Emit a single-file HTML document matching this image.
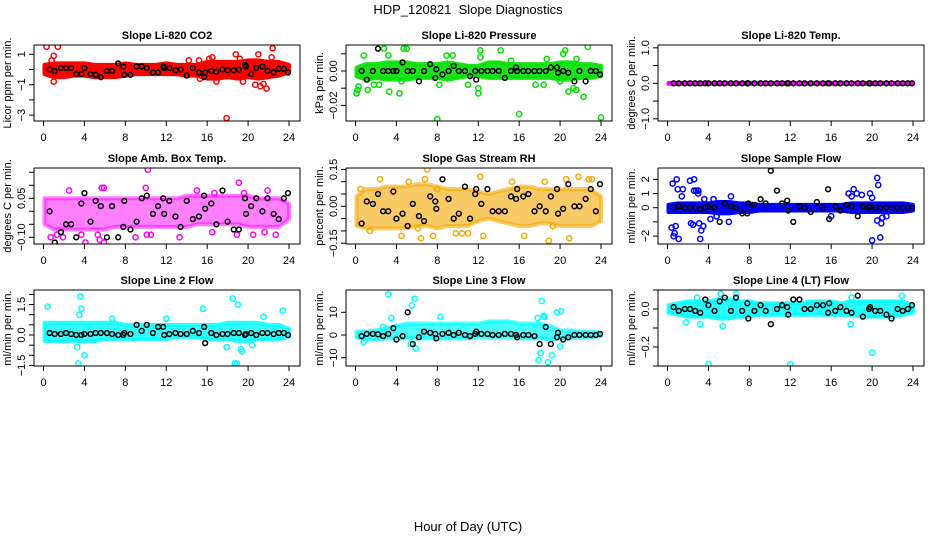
<!DOCTYPE html>
<html><head><meta charset="utf-8"><style>
html,body{margin:0;padding:0;background:#fff;}
svg{display:block;font-family:"Liberation Sans",Arial,sans-serif;}
</style></head><body>
<svg id="chart" width="936" height="540" viewBox="0 0 936 540" xmlns="http://www.w3.org/2000/svg">
<text x="468" y="14" font-size="13" text-anchor="middle">HDP_120821&#160; Slope Diagnostics</text>
<text x="468" y="531" font-size="13" text-anchor="middle">Hour of Day (UTC)</text>
</svg>
<script>
// shared hour positions
const bandHours = [0,1,2,3,4,5,6,7,8,9,10,11,12,13,14,15,16,17,18,19,20,21,22,23,24];
const meanHours = [0.6,1.1,1.7,2.2,2.7,3.2,3.7,4.0,4.6,5.1,5.6,6.2,6.7,7.3,7.8,7.9,8.5,9.1,9.6,10.1,10.7,11.2,11.7,11.8,12.3,12.9,13.4,14.0,14.6,15.2,15.7,15.8,16.4,16.9,17.5,18.0,18.6,19.1,19.7,19.8,20.3,20.8,21.4,21.9,22.5,23.0,23.5,23.9];
const xTicks = [0,4,8,12,16,20,24];

// Panel 1: CO2
const co2Upper = [0.3,0.4,0.4,0.4,0.4,0.3,0.3,0.3,0.4,0.3,0.3,0.3,0.4,0.3,0.3,0.3,0.5,0.5,0.5,0.5,0.6,0.6,0.5,0.5,0.3];
const co2Lower = [-0.3,-0.5,-0.5,-0.4,-0.4,-0.5,-0.5,-0.5,-0.4,-0.3,-0.3,-0.3,-0.3,-0.3,-0.4,-0.4,-0.6,-0.6,-0.5,-0.6,-0.5,-0.6,-0.5,-0.4,-0.2];
const co2OutX = [0.3,1.4,1.0,17.9,21.0,22.4,20.7,21.2,21.5,21.8,22.3,18.8,19.2,16.2,16.5,15.2,14.2,1.0,15.3,16.9,19.5,0.8];
const co2OutY = [1.5,1.5,0.9,-3.2,1.0,1.4,-1.0,-1.1,-0.95,-1.25,0.8,1.0,0.7,0.7,0.8,0.6,0.6,-0.8,-0.6,-0.8,-0.8,0.6];
const co2Means = [0,-0.1,0.1,0.1,0.1,-0.3,-0.3,0.1,-0.3,-0.35,-0.5,-0.1,-0.1,0.4,0.2,-0.35,-0.35,0.2,0.2,0.1,-0.2,-0.2,0.2,0.1,0.1,-0.05,0,-0.4,0.1,-0.2,-0.5,-0.2,-0.1,-0.15,0,-0.05,-0.05,0,0.3,0.2,-0.3,0.1,0.2,-0.1,-0.2,0.05,0.05,-0.2];

// Panel 2: Pressure
const presUpper = [0.002,0.004,0.004,0.005,0.005,0.005,0.004,0.004,0.004,0.005,0.004,0.003,0.003,0.005,0.005,0.004,0.004,0.004,0.004,0.004,0.005,0.005,0.004,0.004,0.003];
const presLower = [-0.003,-0.005,-0.004,-0.005,-0.005,-0.005,-0.004,-0.004,-0.004,-0.005,-0.004,-0.003,-0.003,-0.004,-0.004,-0.004,-0.004,-0.004,-0.004,-0.004,-0.005,-0.005,-0.004,-0.004,-0.003];
const presOutX = [0.1,0.3,0.2,0.8,1.2,1.8,2.3,2.8,3.2,3.3,4.3,4.7,5.0,4.5,8.0,8.2,8.9,9.5,11.0,12.0,12.0,12.2,12.2,14.2,15.2,16.0,17.6,18.4,18.7,20.3,20.5,20.8,21.3,21.6,21.6,22.3,22.7,24.0,20.0];
const presOutY = [-0.013,-0.009,-0.011,0.009,-0.011,-0.008,-0.008,0.013,0.009,-0.012,-0.013,0.013,0.013,-0.006,-0.028,-0.008,0.009,0.009,-0.008,-0.010,-0.013,0.012,0.008,0.012,0.006,-0.025,-0.008,-0.008,0.007,0.010,0.012,-0.012,-0.010,0.007,-0.011,-0.015,0.014,-0.027,-0.006];
const presMeans = [0,-0.005,0,0.013,0,0,0,0,0.005,0,0,-0.006,0,0.004,-0.004,0.001,-0.002,0,0.003,0,0,-0.003,0,-0.005,0,0,0,0,-0.004,0,0.002,0,0,0,0,0,0,0.002,0.002,-0.001,0,-0.001,-0.006,0,-0.006,0,0,-0.002];

// Panel 3: Li-820 Temp
const tempUpper = [0.01,0.01,0.01,0.01,0.01,0.01,0.01,0.01,0.01,0.01,0.01,0.01,0.01,0.01,0.01,0.01,0.01,0.01,0.01,0.01,0.01,0.01,0.01,0.01,0.01];
const tempLower = [-0.01,-0.01,-0.01,-0.01,-0.01,-0.01,-0.01,-0.01,-0.01,-0.01,-0.01,-0.01,-0.01,-0.01,-0.01,-0.01,-0.01,-0.01,-0.01,-0.01,-0.01,-0.01,-0.01,-0.01,-0.01];
const tempOutX = [];
const tempOutY = [];
const tempMeans = [0,0,0,0,0,0,0,0,0,0,0,0,0,0,0,0,0,0,0,0,0,0,0,0,0,0,0,0,0,0,0,0,0,0,0,0,0,0,0,0,0,0,0,0,0,0,0,0];

// Panel 4: Amb. Box Temp
const ambUpper = [0.05,0.05,0.05,0.05,0.05,0.05,0.05,0.05,0.05,0.05,0.05,0.05,0.05,0.05,0.06,0.06,0.06,0.06,0.06,0.06,0.06,0.05,0.05,0.05,0.03];
const ambLower = [-0.05,-0.07,-0.07,-0.07,-0.07,-0.07,-0.07,-0.06,-0.06,-0.06,-0.06,-0.06,-0.06,-0.06,-0.06,-0.05,-0.05,-0.05,-0.05,-0.05,-0.06,-0.06,-0.06,-0.06,-0.03];
const ambOutX = [10.2,2.5,5.9,5.7,10.0,15.0,19.1,21.9,19.6,16.7,4.1,5.5,5.9,5.3,9.0,10.1,10.5,13.3,16.5,18.9,20.5,22.7,0.7,1.3,21.6,1.9,3.7];
const ambOutY = [0.16,0.08,0.09,0.09,0.09,0.08,0.11,0.08,0.07,0.07,-0.12,-0.11,-0.12,-0.09,-0.1,-0.09,-0.09,-0.1,-0.08,-0.09,-0.09,-0.09,-0.1,-0.09,-0.08,-0.1,-0.09];
const ambMeans = [0,-0.12,-0.08,-0.05,-0.05,-0.1,0.03,0.07,-0.04,0.04,0.02,-0.1,0.02,-0.1,-0.06,0.04,-0.07,-0.04,0.05,0.06,-0.01,0.02,0.05,-0.01,0.04,-0.02,-0.06,0.04,-0.03,-0.02,0.06,0.01,0.03,-0.05,0.08,-0.04,-0.07,-0.07,0.05,-0.01,0.02,0.05,0,0.05,-0.01,-0.03,0.05,0.07];

// Panel 5: Gas Stream RH
const rhUpper = [0.04,0.07,0.07,0.08,0.08,0.08,0.09,0.09,0.08,0.07,0.07,0.07,0.06,0.05,0.06,0.07,0.08,0.08,0.07,0.07,0.07,0.07,0.07,0.07,0.04];
const rhLower = [-0.08,-0.09,-0.09,-0.09,-0.09,-0.09,-0.08,-0.08,-0.09,-0.08,-0.08,-0.08,-0.06,-0.05,-0.06,-0.07,-0.08,-0.08,-0.07,-0.07,-0.08,-0.08,-0.08,-0.08,-0.06];
const rhOutX = [0.5,1.4,2.4,4.5,5.2,6.1,6.4,6.8,7.0,7.6,8.0,9.8,10.4,11.0,12.2,12.5,15.3,16.5,18.5,18.9,20.6,21.8,20.9,22.8,23.1,19.3];
const rhOutY = [0.07,-0.1,0.11,-0.12,0.1,-0.09,-0.13,0.11,0.15,-0.12,0.07,-0.11,-0.11,-0.11,0.12,-0.12,0.1,-0.12,0.1,-0.14,0.11,0.12,-0.13,0.11,0.11,-0.08];
const rhMeans = [-0.07,0.02,0.01,0.05,-0.02,-0.02,0.06,-0.05,-0.03,-0.08,0.01,-0.04,-0.06,0.04,0.02,-0.01,0.11,0.03,-0.05,-0.03,0.08,-0.05,0.05,0.07,0.01,0.07,-0.02,-0.02,-0.02,0.04,0.03,0.07,0.04,0.05,-0.02,0,-0.02,0.04,0.07,-0.03,-0.01,0.09,0,0,0.03,0.07,-0.02,0.09];

// Panel 6: Sample Flow
const sfUpper = [0.2,0.3,0.3,0.3,0.3,0.4,0.4,0.3,0.3,0.2,0.2,0.2,0.2,0.2,0.2,0.2,0.2,0.2,0.3,0.3,0.3,0.3,0.3,0.3,0.2];
const sfLower = [-0.3,-0.3,-0.3,-0.3,-0.3,-0.4,-0.4,-0.3,-0.3,-0.2,-0.2,-0.2,-0.2,-0.2,-0.2,-0.2,-0.2,-0.2,-0.3,-0.3,-0.3,-0.3,-0.3,-0.3,-0.2];
const sfOutX = [0.5,0.9,1.0,1.5,1.4,2.2,2.6,2.6,2.8,3.0,3.6,4.5,6.2,0.4,0.6,0.8,0.7,1.1,2.3,2.5,3.1,3.3,3.5,3.2,4.2,4.8,6.0,17.7,18.2,18.0,18.5,19.0,19.8,20.0,20.5,20.6,20.5,20.9,20.0,20.8,21.0,21.4,16.0,3.0];
const sfOutY = [1.7,2.0,1.3,1.3,0.8,1.9,2.0,1.2,1.2,1.0,0.6,0.6,0.8,-1.4,-2.0,-1.3,-1.8,-2.2,-1.1,-1.2,-1.1,-1.6,-1.3,-2.2,-0.8,-0.6,-1.0,1.0,1.3,0.8,1.0,0.9,1.0,0.7,2.1,1.6,-0.9,-1.1,-2.3,-2.1,-0.7,-0.6,-0.6,1.2];
const sfMeans = [0,0.1,0,0,0,-0.1,0,0.1,0,-1.0,0.3,0.1,0,-0.4,-0.4,0.3,0.2,0.6,0.3,2.6,1.2,0.3,0.5,-0.2,-1.0,0.1,0,-0.3,0.4,0,1.3,-0.8,0.1,-0.2,0.2,0.1,-0.6,0.1,0,0.1,0,0,0,0,0,0,0,0];

// Panel 7: Line 2 Flow
const l2Upper = [0.6,0.6,0.6,0.6,0.6,0.6,0.6,0.6,0.5,0.5,0.5,0.5,0.5,0.5,0.5,0.5,0.5,0.5,0.6,0.6,0.6,0.6,0.5,0.5,0.3];
const l2Lower = [-0.3,-0.3,-0.3,-0.3,-0.3,-0.3,-0.2,-0.2,-0.2,-0.2,-0.2,-0.2,-0.2,-0.1,-0.1,-0.1,-0.2,-0.2,-0.2,-0.3,-0.3,-0.2,-0.2,-0.2,-0.1];
const l2OutX = [0.4,3.6,3.5,3.7,3.4,3.3,4.0,15.6,18.5,19.0,18.7,18.9,17.9,19.3,19.4,12.0,21.5,23.4,20.4,6.7];
const l2OutY = [1.4,1.9,1.0,1.3,-1.4,-0.6,-1.0,1.3,1.8,1.5,-1.4,-1.4,-0.6,-0.7,-0.8,0.8,0.9,1.2,-0.5,0.8];
const l2Means = [0.1,0.05,0.05,0.1,0.05,0,0,0.05,0.05,0.1,0.1,0.1,0.05,0,0,0.1,0.05,0.5,0.2,0.5,0.1,0.4,0.4,0,0.05,0.1,0.05,0.05,0.2,0.1,0.4,-0.4,0.1,0,0.05,0.05,0.1,0.1,0,0.05,0.1,0,0.1,0.1,0.05,0.1,0.1,0];

// Panel 8: Line 3 Flow
const l3Upper = [1.5,1.5,2,3,4,5,5,5,5,5,5,5,5,6,6,6,5,5,5,4,2,2,1.5,1.5,1];
const l3Lower = [-1,-2,-2,-1.5,-1.5,-1.5,-1.5,-1.5,-1.5,-1.5,-1.5,-1.5,-1,-1,-1,-1,-1.5,-1.5,-1.5,-2,-1.5,-1.5,-1,-1,-0.5];
const l3OutX = [3.2,3.5,5.5,5.8,5.9,5.4,0.8,8.3,18.2,18.5,18.4,18.8,18.1,17.9,19.2,19.7,20.1,20.0,17.8,2.7];
const l3OutY = [18,7.5,13,16,-6,-4,-3,8,15,8,8.5,-12,-8,-11,-9,10,10.5,-5,7.5,3.5];
const l3Means = [-0.5,0.5,0.5,0.3,-0.5,0.5,3,-2,-0.5,10,-4,-1,1.5,1,0.5,-1.5,0.5,1,0,1,0,-0.5,0.5,1.5,0.5,0.5,0,0,0.5,0.5,0,-1,0,0,-0.5,-4,3.5,-4,-1,1,-2,-1,0,0,0,0,0,0.5];

// Panel 9: Line 4 (LT) Flow
const l4Upper = [0.02,0.03,0.04,0.04,0.04,0.05,0.05,0.04,0.04,0.03,0.03,0.03,0.03,0.03,0.04,0.04,0.04,0.03,0.04,0.04,0.04,0.04,0.04,0.04,0.02];
const l4Lower = [-0.02,-0.03,-0.04,-0.04,-0.04,-0.05,-0.05,-0.04,-0.04,-0.03,-0.03,-0.03,-0.03,-0.03,-0.03,-0.03,-0.03,-0.03,-0.03,-0.04,-0.04,-0.04,-0.04,-0.03,-0.02];
const l4OutX = [4.0,12.0,20.0,5.2,6.7,5.4,3.2,1.8,17.9,22.9,2.9,18.0];
const l4OutY = [-0.29,-0.29,-0.23,0.08,0.08,-0.09,-0.08,-0.07,-0.08,0.07,0.06,0.06];
const l4Means = [0.01,-0.01,0,0,-0.01,-0.02,0.05,0.02,-0.01,0.04,0.06,-0.01,0.06,-0.01,0.03,-0.05,-0.01,0.02,-0.01,-0.08,0,0.02,0.01,-0.03,0.05,0.05,0,0,0.02,0.02,-0.02,0.03,-0.01,0.01,-0.01,-0.02,0.07,-0.04,0,0.01,-0.01,-0.01,-0.03,-0.05,0,-0.01,0,0.02];

// Y tick values and which ones are labeled
const co2Ticks = [-3,-2,-1,0,1];           const co2Labels = ["1","-1","-3"];
const presTicks = [-0.02,-0.01,0,0.01];    const presLabels = ["0.00","-0.02"];
const tempTicks = [-1,-0.5,0,0.5,1];       const tempLabels = ["1.0","0.0","-1.0"];
const ambTicks = [-0.10,-0.05,0,0.05,0.10,0.15]; const ambLabels = ["0.05","-0.10"];
const rhTicks = [-0.15,-0.10,-0.05,0,0.05,0.10,0.15]; const rhLabels = ["0.15","0.00","-0.15"];
const sfTicks = [-2,-1,0,1,2];             const sfLabels = ["2","1","0","-2"];
const l2Ticks = [-1.5,-1,-0.5,0,0.5,1,1.5,2]; const l2Labels = ["1.5","0.0","-1.5"];
const l3Ticks = [-10,0,10];                const l3Labels = ["10","0","-10"];
const l4Ticks = [-0.3,-0.2,-0.1,0,0.1];    const l4Labels = ["0.0","-0.2"];

const NS = "http://www.w3.org/2000/svg";
const svg = document.getElementById('chart');
function mk(tag, attrs, parent){const e=document.createElementNS(NS,tag);for(const k in attrs)e.setAttribute(k,attrs[k]);(parent||svg).appendChild(e);return e;}

const panels = [
 {key:'co2',col:0,row:0,title:'Slope Li-820 CO2',ylab:'Licor ppm per min.',color:'#ff0000',op:1,y0:69.5,k:15.2,up:co2Upper,lo:co2Lower,ox:co2OutX,oy:co2OutY,m:co2Means,ticks:co2Ticks,labels:co2Labels},
 {key:'pressure',col:1,row:0,title:'Slope Li-820 Pressure',ylab:'kPa per min.',color:'#00e000',op:0.9,y0:71,k:1720,up:presUpper,lo:presLower,ox:presOutX,oy:presOutY,m:presMeans,ticks:presTicks,labels:presLabels},
 {key:'li820-temp',col:2,row:0,title:'Slope Li-820 Temp.',ylab:'degrees C per min.',color:'#ff00ff',op:1,y0:83.3,k:35.5,up:tempUpper,lo:tempLower,ox:tempOutX,oy:tempOutY,m:tempMeans,ticks:tempTicks,labels:tempLabels},
 {key:'amb-box-temp',col:0,row:1,title:'Slope Amb. Box Temp.',ylab:'degrees C per min.',color:'#ff00ff',op:0.5,y0:211.3,k:260,up:ambUpper,lo:ambLower,ox:ambOutX,oy:ambOutY,m:ambMeans,ticks:ambTicks,labels:ambLabels},
 {key:'gas-stream-rh',col:1,row:1,title:'Slope Gas Stream RH',ylab:'percent per min.',color:'#f5a800',op:0.6,y0:206.3,k:246,up:rhUpper,lo:rhLower,ox:rhOutX,oy:rhOutY,m:rhMeans,ticks:rhTicks,labels:rhLabels},
 {key:'sample-flow',col:2,row:1,title:'Slope Sample Flow',ylab:'ml/min per min.',color:'#0000ff',op:1,y0:207.7,k:14.2,up:sfUpper,lo:sfLower,ox:sfOutX,oy:sfOutY,m:sfMeans,ticks:sfTicks,labels:sfLabels},
 {key:'line2-flow',col:0,row:2,title:'Slope Line 2 Flow',ylab:'ml/min per min.',color:'#00ffff',op:0.8,y0:335,k:20.3,up:l2Upper,lo:l2Lower,ox:l2OutX,oy:l2OutY,m:l2Means,ticks:l2Ticks,labels:l2Labels},
 {key:'line3-flow',col:1,row:2,title:'Slope Line 3 Flow',ylab:'ml/min per min.',color:'#00ffff',op:0.7,y0:335,k:2.27,up:l3Upper,lo:l3Lower,ox:l3OutX,oy:l3OutY,m:l3Means,ticks:l3Ticks,labels:l3Labels},
 {key:'line4-flow',col:2,row:2,title:'Slope Line 4 (LT) Flow',ylab:'ml/min per min.',color:'#00ffff',op:0.85,y0:309,k:190,up:l4Upper,lo:l4Lower,ox:l4OutX,oy:l4OutY,m:l4Means,ticks:l4Ticks,labels:l4Labels}
];
const rowTop=[45,168,290], rowBot=[121,244,366];

panels.forEach(p=>{
  const x0=34+312*p.col, x1=300+312*p.col, yt=rowTop[p.row], yb=rowBot[p.row];
  const xs=h=>x0+9.5+h*(245.5/24);
  const ys=v=>p.y0-v*p.k;
  const g=mk('g',{});
  
  
  const clip=mk('clipPath',{id:'clip-'+p.key},g);
  mk('rect',{x:x0,y:yt,width:x1-x0,height:yb-yt},clip);
  const plot=mk('g',{'clip-path':'url(#clip-'+p.key+')'},g);
  let pts=[];
  bandHours.forEach((h,i)=>pts.push(xs(Math.max(h,0.1)).toFixed(1)+','+ys(p.up[i]).toFixed(1)));
  for(let i=bandHours.length-1;i>=0;i--)pts.push(xs(Math.max(bandHours[i],0.1)).toFixed(1)+','+ys(p.lo[i]).toFixed(1));
  const band=mk('polygon',{points:pts.join(' '),fill:p.color,'fill-opacity':p.op,stroke:p.color,'stroke-opacity':p.op,'stroke-width':4,'stroke-linejoin':'round'},plot);
  
  
  p.ox.forEach((h,i)=>{
    const c=mk('circle',{cx:xs(h),cy:ys(p.oy[i]),r:2.6,fill:'none',stroke:p.color,'stroke-width':1.5},plot);
    
    
  });
  meanHours.forEach((h,i)=>{
    const c=mk('circle',{cx:xs(h),cy:ys(p.m[i]),r:2.4,fill:'none',stroke:'#000','stroke-width':1.5},plot);
    
    
  });
  mk('path',{d:`M${x0},${yt}V${yb}H${x1}V${yt}H${x0}`,fill:'none',stroke:'#000','stroke-width':1},g);
  xTicks.forEach(t=>{
    mk('line',{x1:xs(t),x2:xs(t),y1:yb,y2:yb+5,stroke:'#000'},g);
    const tl=mk('text',{x:xs(t),y:yb+20,'font-size':11,'text-anchor':'middle'},g);
    tl.textContent=t;
    
    
  });
  p.ticks.forEach(t=>{
    const y=ys(t);
    if(y<yt-1||y>yb+1)return;
    mk('line',{x1:x0-5,x2:x0,y1:y,y2:y,stroke:'#000'},g);
  });
  p.labels.forEach(s=>{
    const y=ys(parseFloat(s));
    const tl=mk('text',{x:x0-9,y:y,'font-size':11,'text-anchor':'middle',transform:`rotate(-90 ${x0-9} ${y})`},g);
    tl.textContent=s.replace('-','\u2212');
    
    
  });
  const yl=mk('text',{x:x0-23,y:(yt+yb)/2,'font-size':11,'text-anchor':'middle',transform:`rotate(-90 ${x0-23} ${(yt+yb)/2})`},g);
  yl.textContent=p.ylab;
  
  
  const ti=mk('text',{x:(x0+x1)/2,y:yt-6,'font-size':11,'font-weight':'bold','text-anchor':'middle'},g);
  ti.textContent=p.title;
  
  
});
</script>
</body></html>
